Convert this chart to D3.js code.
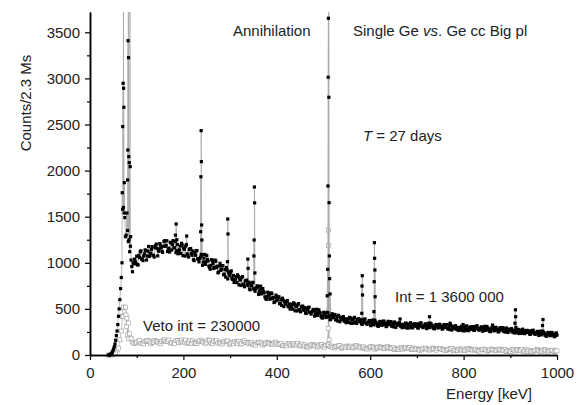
<!DOCTYPE html>
<html>
<head>
<meta charset="utf-8">
<script src="https://cdn.jsdelivr.net/npm/d3@7/dist/d3.min.js"></script>
<style>
body { margin: 0; background: #fff; }
text { font-family: "Liberation Sans", Arial, Helvetica, sans-serif; }
</style>
</head>
<body>
<div id="chart"></div>
<script>
// main spectrum (single Ge), continuum read every 3 keV from 40 keV ...
var binStart = 40, binStep = 3;
var counts = [
  0, 3, 18, 45, 90, 160, 260, 420, 600, 840,
  1580, 1540, 1283, 1540, 1230, 1120, 1030, 903, 990, 1010,
  1072, 977, 1057, 1130, 1042, 1073, 1139, 1030, 1126, 1068,
  1101, 1176, 1081, 1163, 1203, 1075, 1150, 1190, 1125, 1179,
  1240, 1189, 1122, 1159, 1222, 1138, 1241, 1162, 1110, 1198,
  1130, 1181, 1211, 1078, 1147, 1181, 1097, 1062, 1152, 1100,
  1129, 1023, 1082, 1133, 1034, 1045, 1091, 973, 1050, 983,
  1080, 1020, 948, 972, 1024, 938, 1029, 947, 891, 966,
  918, 968, 870, 927, 949, 825, 877, 898, 830, 863,
  814, 850, 869, 761, 814, 839, 770, 740, 809, 768,
  790, 707, 750, 787, 710, 717, 750, 658, 715, 663,
  720, 673, 616, 634, 672, 605, 673, 611, 569, 627,
  591, 630, 556, 600, 616, 525, 564, 580, 530, 555,
  519, 549, 566, 480, 524, 546, 492, 469, 527, 495,
  514, 450, 486, 518, 458, 466, 494, 422, 470, 430,
  490, 454, 410, 426, 458, 406, 462, 414, 382, 430,
  404, 436, 380, 416, 431, 361, 393, 408, 370, 393,
  366, 393, 408, 343, 380, 399, 358, 342, 389, 366,
  383, 333, 363, 390, 343, 351, 374, 318, 358, 327,
  377, 350, 317, 332, 360, 321, 368, 332, 308, 349,
  329, 358, 312, 344, 358, 300, 329, 343, 390, 332,
  310, 333, 347, 292, 324, 341, 307, 294, 335, 316,
  338, 292, 322, 348, 306, 314, 337, 286, 324, 297,
  342, 319, 290, 303, 327, 292, 333, 301, 281, 316,
  299, 326, 282, 312, 325, 271, 297, 310, 281, 300,
  279, 300, 313, 262, 292, 308, 276, 264, 302, 284,
  308, 267, 293, 316, 277, 284, 305, 258, 292, 267,
  309, 286, 258, 271, 294, 261, 300, 270, 250, 284,
  270, 294, 254, 281, 292, 244, 267, 279, 252, 269,
  250, 269, 279, 233, 259, 273, 243, 232, 265, 249,
  262, 224, 247, 268, 231, 238, 256, 212, 243, 219,
  257, 235, 209, 220, 241, 209, 245, 216, 198, 228,
  215
];
// ... and the channels in between, from 41.5 keV
var midStart = 41.5, midStep = 3;
var countsMid = [
  1, 8, 28, 65, 120, 210, 330, 500, 720, 1000,
  1600, 1490, 1300, 1350, 1250, 1180, 960, 1000, 1040, 990,
  979, 1080, 1118, 1042, 1024, 1097, 1135, 1074, 1177, 1105,
  1146, 1081, 1062, 1186, 1156, 1126, 1208, 1164, 1113, 1230,
  1179, 1239, 1144, 1117, 1215, 1200, 1163, 1230, 1129, 1098,
  1141, 1101, 1193, 1158, 1073, 1198, 1086, 1142, 1154, 1081,
  1034, 1110, 1130, 1044, 1010, 1061, 1080, 1008, 1091, 1011,
  1037, 964, 931, 1034, 994, 953, 1017, 962, 900, 994,
  931, 970, 877, 845, 920, 899, 860, 912, 819, 787,
  822, 785, 853, 823, 754, 851, 760, 802, 811, 753,
  716, 774, 786, 719, 691, 729, 742, 684, 747, 685,
  687, 630, 603, 681, 649, 617, 665, 623, 576, 649,
  602, 631, 562, 538, 596, 581, 552, 591, 522, 498,
  524, 497, 555, 532, 478, 558, 486, 521, 530, 484,
  456, 504, 516, 464, 444, 476, 488, 444, 496, 448,
  464, 420, 400, 464, 440, 416, 456, 424, 388, 448,
  414, 439, 387, 369, 416, 405, 385, 417, 366, 350,
  373, 353, 400, 384, 344, 408, 354, 383, 392, 358,
  337, 377, 388, 347, 333, 359, 370, 336, 379, 342,
  358, 325, 311, 364, 347, 330, 365, 341, 315, 365,
  338, 361, 318, 305, 346, 339, 323, 352, 309, 296,
  316, 300, 341, 328, 294, 350, 304, 330, 338, 310,
  296, 334, 346, 309, 297, 323, 334, 304, 345, 312,
  325, 296, 284, 331, 316, 301, 330, 310, 286, 330,
  308, 329, 288, 276, 314, 307, 291, 318, 278, 266,
  285, 270, 308, 296, 264, 316, 273, 297, 305, 278,
  270, 305, 314, 281, 269, 292, 302, 274, 311, 280,
  293, 265, 253, 298, 283, 269, 298, 278, 255, 297,
  277, 296, 260, 249, 282, 276, 262, 286, 250, 239,
  254, 241, 274, 263, 234, 280, 240, 262, 267, 244,
  227, 258, 266, 236, 224, 245, 253, 227, 260, 232,
  242, 215, 204, 245, 231, 217, 243, 223, 203, 240
];

// lines standing above the continuum (energy keV, counts)
var peakEnergy = [
  69, 70, 71, 71.5, 72, 72.5, 73.5,
  80.5, 81, 81.5, 82, 82.5, 83, 84, 85.5, 86, 87,
  183, 184.5, 186, 207,
  237, 237.5, 238, 238.5, 239, 239.5,
  294.5, 295, 295.5, 338, 338.5,
  351, 351.5, 352, 352.5, 353,
  508, 509, 509.5, 510, 510.5, 511, 511.5, 512, 512.5, 513, 514,
  582, 582.5, 583, 583.5,
  608, 608.5, 609, 609.5, 610, 610.5,
  727, 728, 771, 799, 862,
  910, 911, 911.5, 912, 969, 970
];
var peakCounts = [
  1760, 2477, 2947, 5000, 2893, 2687, 1869,
  1898, 2223, 3409, 5500, 3225, 2151, 2086, 4200, 2043, 1283,
  1300, 1421, 1250, 1290,
  1337, 1933, 2433, 2097, 1410, 1247,
  1012, 1475, 1312, 1040, 940,
  1074, 1247, 1822, 1650, 890,
  642, 929, 1833, 3012, 3652, 5200, 2795, 1652, 1074, 828, 662,
  452, 748, 860, 651,
  470, 795, 1218, 1049, 922, 632,
  415, 344, 345, 330, 325,
  345, 490, 415, 300, 320, 385
];

// veto spectrum, read every 6 keV from 40 keV and from 43 keV
var vetoStart = 40, vetoStep = 6;
var vetoCounts = [
  0, 1, 12, 55, 165, 420, 520, 347, 180, 125,
  136, 156, 126, 148, 158, 120, 140, 150, 130, 144,
  165, 149, 129, 139, 157, 133, 163, 141, 127, 153,
  154, 124, 144, 162, 134, 140, 156, 122, 148, 130,
  125, 141, 151, 115, 137, 149, 127, 119, 147, 135,
  121, 139, 112, 132, 141, 107, 125, 134, 116, 129,
  128, 115, 99, 107, 122, 102, 126, 109, 98, 118,
  110, 86, 102, 116, 94, 98, 111, 84, 105, 90,
  81, 92, 99, 74, 89, 98, 82, 77, 96, 88,
  75, 89, 68, 84, 91, 64, 78, 85, 71, 81,
  82, 72, 60, 66, 77, 63, 81, 68, 59, 75,
  71, 53, 65, 76, 59, 63, 72, 52, 68, 57,
  52, 62, 68, 46, 59, 66, 53, 48, 65, 58,
  52, 64, 46, 59, 65, 42, 54, 60, 48, 56,
  62, 52, 40, 46, 57, 43, 61, 48, 39, 55,
  53, 35, 47, 58, 41, 45, 54, 34, 50, 39,
  44
];
var vetoMidStart = 43, vetoMidStep = 6;
var vetoCountsMid = [
  0, 4, 25, 75, 260, 470, 400, 230, 140, 130,
  148, 128, 120, 154, 144, 134, 156, 142, 126, 158,
  147, 163, 135, 127, 155, 151, 141, 161, 133, 125,
  136, 126, 154, 146, 124, 162, 132, 150, 156, 138,
  119, 145, 153, 129, 121, 139, 147, 127, 155, 133,
  132, 114, 107, 138, 129, 120, 139, 127, 112, 141,
  114, 126, 104, 98, 120, 117, 109, 125, 102, 96,
  95, 87, 110, 103, 86, 116, 92, 106, 111, 97,
  77, 95, 101, 84, 78, 91, 96, 82, 102, 87,
  84, 70, 64, 88, 81, 74, 89, 79, 68, 91,
  71, 81, 64, 59, 76, 74, 68, 80, 63, 58,
  60, 54, 71, 66, 53, 76, 58, 69, 72, 62,
  48, 64, 69, 54, 50, 60, 65, 53, 70, 57,
  59, 47, 42, 62, 56, 50, 64, 55, 46, 65,
  51, 61, 44, 39, 56, 54, 48, 60, 43, 38,
  42, 36, 53, 48, 35, 58, 40, 51, 54, 44
];
var vetoPeakEnergy = [71, 72, 77, 78, 80, 83, 510, 510.5, 511, 511.5, 512];
var vetoPeakCounts = [415, 520, 434, 307, 217, 174, 290, 1355, 1190, 490, 165];

var xTicks = [0, 200, 400, 600, 800, 1000];
var xMinor = [100, 300, 500, 700, 900];
var yTicks = [0, 500, 1000, 1500, 2000, 2500, 3000, 3500];
var yMinor = [250, 750, 1250, 1750, 2250, 2750, 3250];

var W = 582, H = 405;
var x = d3.scaleLinear().domain([0, 1000]).range([90, 557]);
var y = d3.scaleLinear().domain([0, 3720]).range([355, 12]);

var svg = d3.select("#chart").append("svg")
    .attr("width", W)
    .attr("height", H);

svg.append("defs").append("clipPath").attr("id", "plot")
  .append("rect")
    .attr("x", 85).attr("y", 12)
    .attr("width", 480).attr("height", 350);

// merge regularly read channels with the listed peak points, sorted by energy
function series(grids, pe, pc) {
  var pts = [];
  grids.forEach(function(gr) {
    gr[2].forEach(function(v, i) { pts.push({e: gr[0] + i * gr[1], c: v}); });
  });
  pe.forEach(function(e, i) { pts.push({e: e, c: pc[i]}); });
  pts.sort(function(a, b) { return a.e - b.e; });
  return pts;
}

var main = series([[binStart, binStep, counts], [midStart, midStep, countsMid]],
                  peakEnergy, peakCounts);
var veto = series([[vetoStart, vetoStep, vetoCounts], [vetoMidStart, vetoMidStep, vetoCountsMid]],
                  vetoPeakEnergy, vetoPeakCounts);

var line = d3.line()
    .x(function(d) { return x(d.e); })
    .y(function(d) { return y(d.c); });

var g = svg.append("g").attr("clip-path", "url(#plot)");

// veto: open grey squares
g.append("path")
    .datum(veto)
    .attr("fill", "none")
    .attr("stroke", "#aaa")
    .attr("stroke-width", 0.7)
    .attr("d", line);
g.selectAll(".veto")
  .data(veto)
  .enter().append("rect")
    .attr("class", "veto")
    .attr("x", function(d) { return x(d.e) - 2; })
    .attr("y", function(d) { return y(d.c) - 2; })
    .attr("width", 4).attr("height", 4)
    .attr("fill", "#fff")
    .attr("stroke", "#999")
    .attr("stroke-width", 0.6);

// single Ge: filled black squares
g.append("path")
    .datum(main)
    .attr("fill", "none")
    .attr("stroke", "#aaa")
    .attr("stroke-width", 0.8)
    .attr("d", line);
g.selectAll(".pt")
  .data(main)
  .enter().append("rect")
    .attr("class", "pt")
    .attr("x", function(d) { return x(d.e) - 1.6; })
    .attr("y", function(d) { return y(d.c) - 1.6; })
    .attr("width", 3.2).attr("height", 3.2)
    .attr("fill", "#000");

// axes
function styleAxis(sel) {
  sel.select(".domain").attr("stroke", "#000").attr("stroke-width", 1.5);
  sel.selectAll(".tick line").attr("stroke", "#000").attr("stroke-width", 1.2);
  sel.selectAll(".tick text")
    .attr("fill", "#222")
    .style("font-size", "15px")
    .style("font-family", "'Liberation Sans', Arial, sans-serif");
}

svg.append("g")
    .attr("transform", "translate(0,355)")
    .call(d3.axisBottom(x).tickValues(xMinor).tickSize(3).tickSizeOuter(0).tickFormat(""))
    .call(styleAxis);
svg.append("g")
    .attr("transform", "translate(0,355)")
    .call(d3.axisBottom(x).tickValues(xTicks).tickSize(5).tickSizeOuter(0).tickPadding(7)
      .tickFormat(d3.format("d")))
    .call(styleAxis);

svg.append("g")
    .attr("transform", "translate(90,0)")
    .call(d3.axisLeft(y).tickValues(yMinor).tickSize(3).tickSizeOuter(0).tickFormat(""))
    .call(styleAxis);
svg.append("g")
    .attr("transform", "translate(90,0)")
    .call(d3.axisLeft(y).tickValues(yTicks).tickSize(5).tickSizeOuter(0).tickPadding(5)
      .tickFormat(d3.format("d")))
    .call(styleAxis);

// titles and notes
svg.append("text")
    .attr("transform", "translate(31,103) rotate(-90)")
    .attr("text-anchor", "middle")
    .attr("fill", "#222")
    .style("font-size", "15px")
    .text("Counts/2.3 Ms");

svg.append("text")
    .attr("x", 489).attr("y", 399)
    .attr("text-anchor", "middle")
    .attr("fill", "#222")
    .style("font-size", "15px")
    .text("Energy [keV]");

function note(px, py, parts) {
  var t = svg.append("text")
      .attr("x", px).attr("y", py)
      .attr("fill", "#222")
      .style("font-size", "15px");
  parts.forEach(function(p) {
    t.append("tspan").style("font-style", p[1] ? "italic" : "normal").text(p[0]);
  });
}

note(233, 36, [["Annihilation", false]]);
note(353, 36, [["Single Ge ", false], ["vs", true], [". Ge cc Big pl", false]]);
note(363, 141, [["T", true], [" = 27 days", false]]);
note(395, 302, [["Int = 1 3600 000", false]]);
note(143, 331, [["Veto int = 230000", false]]);
</script>
</body>
</html>
